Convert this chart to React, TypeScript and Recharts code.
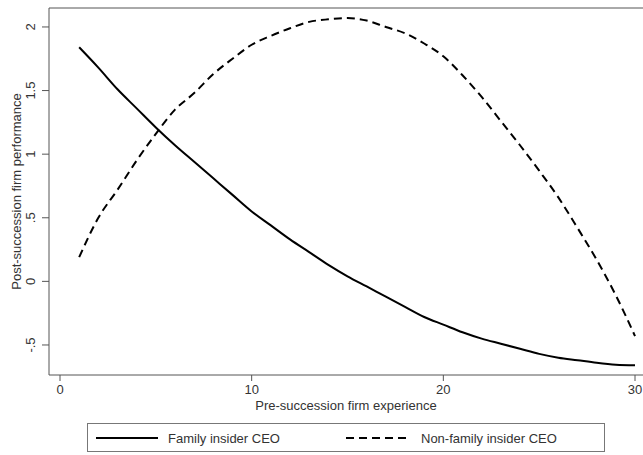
import { LineChart, Line, XAxis, YAxis, ReferenceLine, Legend } from "recharts"

const experience = [1, 2, 3, 4, 5, 6, 7, 8, 9, 10, 11, 12, 13, 14, 15, 16, 17, 18, 19, 20, 21, 22, 23, 24, 25, 26, 27, 28, 29, 30]
const familyCEO = [1.84, 1.68, 1.51, 1.36, 1.21, 1.07, 0.94, 0.81, 0.68, 0.55, 0.44, 0.33, 0.23, 0.13, 0.04, -0.04, -0.12, -0.2, -0.28, -0.34, -0.4, -0.45, -0.49, -0.53, -0.57, -0.6, -0.62, -0.64, -0.655, -0.66]
const nonFamilyCEO = [0.19, 0.5, 0.72, 0.95, 1.16, 1.35, 1.48, 1.63, 1.75, 1.86, 1.93, 1.99, 2.04, 2.06, 2.07, 2.05, 2.0, 1.95, 1.87, 1.77, 1.62, 1.45, 1.26, 1.07, 0.87, 0.66, 0.42, 0.17, -0.11, -0.43]
const xTicks = [0, 10, 20, 30]
const yTicks = [-0.5, 0, 0.5, 1, 1.5, 2]
const yTickLabels = ["-.5", "0", ".5", "1", "1.5", "2"]

const data = experience.map((x, i) => ({ x, family: familyCEO[i], nonFamily: nonFamilyCEO[i] }))

const FONT = "'Liberation Sans', Arial, sans-serif"
const AXIS = "#555"
const TEXT = "#333"

// y tick labels are rotated like in the Stata original
const YTick = ({ x, y, payload }: { x?: number; y?: number; payload?: { value: number } }) => {
  const idx = yTicks.indexOf(payload?.value ?? 0)
  return (
    <text x={x} y={y} transform={`rotate(-90 ${x} ${y})`} textAnchor="middle" dy={-5} fontSize={13} fill={TEXT} fontFamily={FONT}>
      {yTickLabels[idx]}
    </text>
  )
}

const LegendBox = () => (
  <div style={{ width: 518, height: 29, border: "1px solid #777", boxSizing: "border-box", position: "relative", fontFamily: FONT, fontSize: 13, color: TEXT }}>
    <svg width={516} height={27} style={{ position: "absolute", left: 0, top: 0 }}>
      <line x1={8} x2={70} y1={14} y2={14} stroke="#000" strokeWidth={2} />
      <line x1={258} x2={322} y1={14} y2={14} stroke="#000" strokeWidth={2} strokeDasharray="8 5" />
      <text x={80} y={18.5} fontSize={13} fill={TEXT} fontFamily={FONT}>Family insider CEO</text>
      <text x={333} y={18.5} fontSize={13} fill={TEXT} fontFamily={FONT}>Non-family insider CEO</text>
    </svg>
  </div>
)

export default function App() {
  return (
    <div style={{ position: "relative", width: 643, height: 455, background: "#fff" }}>
      <style>{"body{margin:0}"}</style>
      <LineChart width={643} height={455} data={data} margin={{ top: 8, right: 0, left: 0, bottom: 0 }}>
        <XAxis
          dataKey="x"
          type="number"
          domain={[-0.574, 30.417]}
          ticks={xTicks}
          allowDataOverflow
          height={80}
          stroke={AXIS}
          tickSize={6}
          tick={{ fontSize: 13, fill: TEXT, fontFamily: FONT, dy: 2 }}
          label={{ value: "Pre-succession firm experience", position: "insideTop", offset: 26, fontSize: 13, fill: TEXT, fontFamily: FONT }}
        />
        <YAxis
          type="number"
          domain={[-0.736, 2.149]}
          ticks={yTicks}
          allowDataOverflow
          width={49}
          stroke={AXIS}
          tickSize={7}
          tick={<YTick />}
          label={{ value: "Post-succession firm performance", angle: -90, position: "insideLeft", offset: 16, fontSize: 13, fill: TEXT, fontFamily: FONT, style: { textAnchor: "middle" } }}
        />
        <ReferenceLine y={2.149} stroke={AXIS} strokeWidth={1} ifOverflow="visible" />
        <Line dataKey="family" type="monotone" stroke="#000" strokeWidth={2} dot={false} isAnimationActive={false} />
        <Line dataKey="nonFamily" type="monotone" stroke="#000" strokeWidth={2} strokeDasharray="8 5" dot={false} isAnimationActive={false} />
        <Legend verticalAlign="middle" layout="horizontal" content={<LegendBox />} wrapperStyle={{ top: 423, left: 87, width: 520 }} />
      </LineChart>
    </div>
  )
}
